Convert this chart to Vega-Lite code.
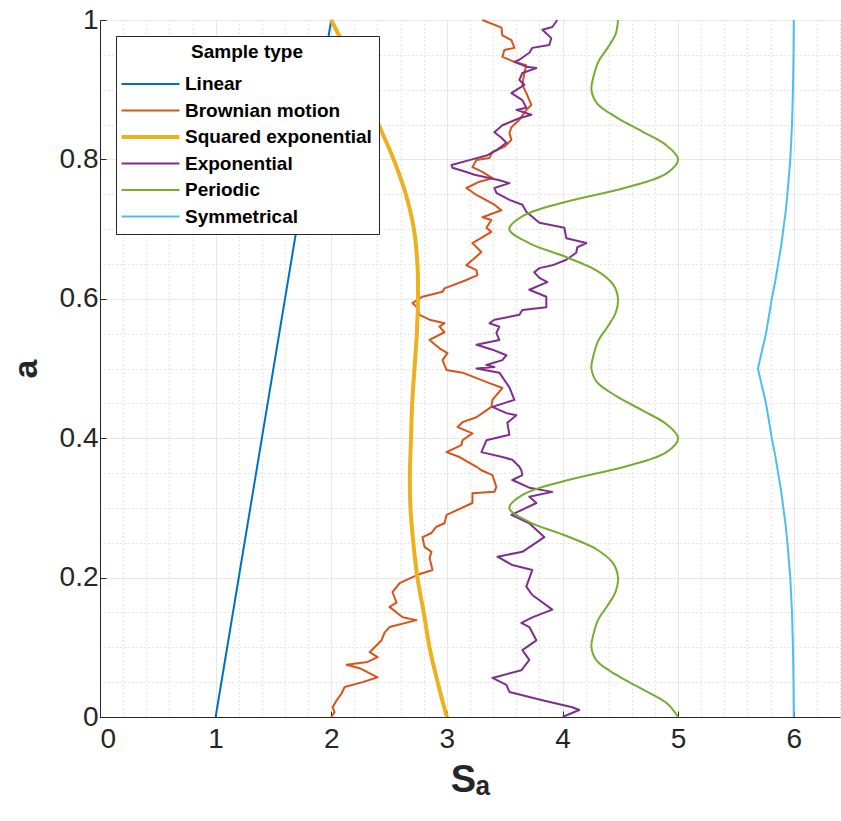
{
  "$schema": "https://vega.github.io/schema/vega-lite/v6.json",
  "autosize": "none",
  "width": 740,
  "height": 697,
  "padding": {"left": 100, "top": 20, "right": 1, "bottom": 104},
  "background": "white",
  "config": {
    "font": "Liberation Sans",
    "view": {"stroke": null},
    "axis": {
      "domainColor": "#262626",
      "domainWidth": 1,
      "labelColor": "#262626",
      "labelFont": "Liberation Sans",
      "labelFontSize": 28,
      "titleColor": "#262626",
      "titleFont": "Liberation Sans",
      "titleFontWeight": "bold",
      "grid": true,
      "gridWidth": 1
    }
  },
  "data": {"values": [
    {"type": "Linear", "a": 0, "S": 1},
    {"type": "Linear", "a": 1, "S": 2},
    {"type": "Brownian motion", "a": 1.000, "S": 3.307},
    {"type": "Brownian motion", "a": 0.989, "S": 3.472},
    {"type": "Brownian motion", "a": 0.978, "S": 3.480},
    {"type": "Brownian motion", "a": 0.971, "S": 3.558},
    {"type": "Brownian motion", "a": 0.960, "S": 3.584},
    {"type": "Brownian motion", "a": 0.957, "S": 3.497},
    {"type": "Brownian motion", "a": 0.947, "S": 3.480},
    {"type": "Brownian motion", "a": 0.940, "S": 3.584},
    {"type": "Brownian motion", "a": 0.935, "S": 3.687},
    {"type": "Brownian motion", "a": 0.924, "S": 3.670},
    {"type": "Brownian motion", "a": 0.907, "S": 3.653},
    {"type": "Brownian motion", "a": 0.892, "S": 3.696},
    {"type": "Brownian motion", "a": 0.878, "S": 3.731},
    {"type": "Brownian motion", "a": 0.871, "S": 3.687},
    {"type": "Brownian motion", "a": 0.857, "S": 3.627},
    {"type": "Brownian motion", "a": 0.846, "S": 3.558},
    {"type": "Brownian motion", "a": 0.838, "S": 3.541},
    {"type": "Brownian motion", "a": 0.828, "S": 3.558},
    {"type": "Brownian motion", "a": 0.818, "S": 3.497},
    {"type": "Brownian motion", "a": 0.811, "S": 3.394},
    {"type": "Brownian motion", "a": 0.802, "S": 3.368},
    {"type": "Brownian motion", "a": 0.799, "S": 3.256},
    {"type": "Brownian motion", "a": 0.789, "S": 3.221},
    {"type": "Brownian motion", "a": 0.782, "S": 3.307},
    {"type": "Brownian motion", "a": 0.773, "S": 3.394},
    {"type": "Brownian motion", "a": 0.768, "S": 3.282},
    {"type": "Brownian motion", "a": 0.759, "S": 3.169},
    {"type": "Brownian motion", "a": 0.749, "S": 3.256},
    {"type": "Brownian motion", "a": 0.735, "S": 3.411},
    {"type": "Brownian motion", "a": 0.727, "S": 3.472},
    {"type": "Brownian motion", "a": 0.717, "S": 3.307},
    {"type": "Brownian motion", "a": 0.713, "S": 3.385},
    {"type": "Brownian motion", "a": 0.702, "S": 3.342},
    {"type": "Brownian motion", "a": 0.696, "S": 3.385},
    {"type": "Brownian motion", "a": 0.680, "S": 3.221},
    {"type": "Brownian motion", "a": 0.667, "S": 3.299},
    {"type": "Brownian motion", "a": 0.648, "S": 3.169},
    {"type": "Brownian motion", "a": 0.641, "S": 3.256},
    {"type": "Brownian motion", "a": 0.634, "S": 3.264},
    {"type": "Brownian motion", "a": 0.627, "S": 3.169},
    {"type": "Brownian motion", "a": 0.615, "S": 2.979},
    {"type": "Brownian motion", "a": 0.610, "S": 2.962},
    {"type": "Brownian motion", "a": 0.603, "S": 2.789},
    {"type": "Brownian motion", "a": 0.594, "S": 2.703},
    {"type": "Brownian motion", "a": 0.587, "S": 2.746},
    {"type": "Brownian motion", "a": 0.577, "S": 2.763},
    {"type": "Brownian motion", "a": 0.570, "S": 2.850},
    {"type": "Brownian motion", "a": 0.565, "S": 2.979},
    {"type": "Brownian motion", "a": 0.560, "S": 2.936},
    {"type": "Brownian motion", "a": 0.552, "S": 2.979},
    {"type": "Brownian motion", "a": 0.541, "S": 2.850},
    {"type": "Brownian motion", "a": 0.529, "S": 2.936},
    {"type": "Brownian motion", "a": 0.522, "S": 3.005},
    {"type": "Brownian motion", "a": 0.512, "S": 2.962},
    {"type": "Brownian motion", "a": 0.498, "S": 2.997},
    {"type": "Brownian motion", "a": 0.494, "S": 3.135},
    {"type": "Brownian motion", "a": 0.479, "S": 3.368},
    {"type": "Brownian motion", "a": 0.472, "S": 3.480},
    {"type": "Brownian motion", "a": 0.455, "S": 3.394},
    {"type": "Brownian motion", "a": 0.445, "S": 3.385},
    {"type": "Brownian motion", "a": 0.430, "S": 3.256},
    {"type": "Brownian motion", "a": 0.423, "S": 3.135},
    {"type": "Brownian motion", "a": 0.416, "S": 3.092},
    {"type": "Brownian motion", "a": 0.407, "S": 3.221},
    {"type": "Brownian motion", "a": 0.397, "S": 3.135},
    {"type": "Brownian motion", "a": 0.390, "S": 3.126},
    {"type": "Brownian motion", "a": 0.380, "S": 2.997},
    {"type": "Brownian motion", "a": 0.373, "S": 3.109},
    {"type": "Brownian motion", "a": 0.359, "S": 3.256},
    {"type": "Brownian motion", "a": 0.354, "S": 3.299},
    {"type": "Brownian motion", "a": 0.347, "S": 3.394},
    {"type": "Brownian motion", "a": 0.330, "S": 3.428},
    {"type": "Brownian motion", "a": 0.323, "S": 3.411},
    {"type": "Brownian motion", "a": 0.321, "S": 3.221},
    {"type": "Brownian motion", "a": 0.307, "S": 3.221},
    {"type": "Brownian motion", "a": 0.290, "S": 2.997},
    {"type": "Brownian motion", "a": 0.278, "S": 2.979},
    {"type": "Brownian motion", "a": 0.273, "S": 2.910},
    {"type": "Brownian motion", "a": 0.264, "S": 2.867},
    {"type": "Brownian motion", "a": 0.258, "S": 2.789},
    {"type": "Brownian motion", "a": 0.244, "S": 2.807},
    {"type": "Brownian motion", "a": 0.237, "S": 2.867},
    {"type": "Brownian motion", "a": 0.228, "S": 2.850},
    {"type": "Brownian motion", "a": 0.211, "S": 2.876},
    {"type": "Brownian motion", "a": 0.204, "S": 2.746},
    {"type": "Brownian motion", "a": 0.192, "S": 2.591},
    {"type": "Brownian motion", "a": 0.179, "S": 2.530},
    {"type": "Brownian motion", "a": 0.164, "S": 2.565},
    {"type": "Brownian motion", "a": 0.158, "S": 2.504},
    {"type": "Brownian motion", "a": 0.143, "S": 2.617},
    {"type": "Brownian motion", "a": 0.139, "S": 2.737},
    {"type": "Brownian motion", "a": 0.129, "S": 2.504},
    {"type": "Brownian motion", "a": 0.121, "S": 2.461},
    {"type": "Brownian motion", "a": 0.110, "S": 2.435},
    {"type": "Brownian motion", "a": 0.093, "S": 2.332},
    {"type": "Brownian motion", "a": 0.086, "S": 2.401},
    {"type": "Brownian motion", "a": 0.079, "S": 2.314},
    {"type": "Brownian motion", "a": 0.075, "S": 2.133},
    {"type": "Brownian motion", "a": 0.070, "S": 2.245},
    {"type": "Brownian motion", "a": 0.057, "S": 2.401},
    {"type": "Brownian motion", "a": 0.050, "S": 2.271},
    {"type": "Brownian motion", "a": 0.043, "S": 2.116},
    {"type": "Brownian motion", "a": 0.034, "S": 2.090},
    {"type": "Brownian motion", "a": 0.024, "S": 2.047},
    {"type": "Brownian motion", "a": 0.014, "S": 2.012},
    {"type": "Brownian motion", "a": 0.007, "S": 2.029},
    {"type": "Brownian motion", "a": 0.000, "S": 2.000},
    {"type": "Squared exponential", "a": 1.00, "S": 2.00},
    {"type": "Squared exponential", "a": 0.95, "S": 2.15},
    {"type": "Squared exponential", "a": 0.90, "S": 2.29},
    {"type": "Squared exponential", "a": 0.85, "S": 2.41},
    {"type": "Squared exponential", "a": 0.80, "S": 2.54},
    {"type": "Squared exponential", "a": 0.75, "S": 2.645},
    {"type": "Squared exponential", "a": 0.70, "S": 2.715},
    {"type": "Squared exponential", "a": 0.65, "S": 2.745},
    {"type": "Squared exponential", "a": 0.60, "S": 2.75},
    {"type": "Squared exponential", "a": 0.55, "S": 2.74},
    {"type": "Squared exponential", "a": 0.50, "S": 2.72},
    {"type": "Squared exponential", "a": 0.45, "S": 2.70},
    {"type": "Squared exponential", "a": 0.40, "S": 2.69},
    {"type": "Squared exponential", "a": 0.35, "S": 2.68},
    {"type": "Squared exponential", "a": 0.30, "S": 2.685},
    {"type": "Squared exponential", "a": 0.25, "S": 2.71},
    {"type": "Squared exponential", "a": 0.20, "S": 2.745},
    {"type": "Squared exponential", "a": 0.15, "S": 2.80},
    {"type": "Squared exponential", "a": 0.10, "S": 2.85},
    {"type": "Squared exponential", "a": 0.05, "S": 2.92},
    {"type": "Squared exponential", "a": 0.00, "S": 3.00},
    {"type": "Exponential", "a": 1.000, "S": 3.955},
    {"type": "Exponential", "a": 0.990, "S": 3.912},
    {"type": "Exponential", "a": 0.986, "S": 3.826},
    {"type": "Exponential", "a": 0.974, "S": 3.903},
    {"type": "Exponential", "a": 0.964, "S": 3.886},
    {"type": "Exponential", "a": 0.960, "S": 3.739},
    {"type": "Exponential", "a": 0.953, "S": 3.713},
    {"type": "Exponential", "a": 0.943, "S": 3.627},
    {"type": "Exponential", "a": 0.940, "S": 3.584},
    {"type": "Exponential", "a": 0.933, "S": 3.687},
    {"type": "Exponential", "a": 0.931, "S": 3.774},
    {"type": "Exponential", "a": 0.924, "S": 3.653},
    {"type": "Exponential", "a": 0.914, "S": 3.627},
    {"type": "Exponential", "a": 0.907, "S": 3.670},
    {"type": "Exponential", "a": 0.895, "S": 3.558},
    {"type": "Exponential", "a": 0.885, "S": 3.653},
    {"type": "Exponential", "a": 0.874, "S": 3.687},
    {"type": "Exponential", "a": 0.871, "S": 3.601},
    {"type": "Exponential", "a": 0.864, "S": 3.731},
    {"type": "Exponential", "a": 0.859, "S": 3.627},
    {"type": "Exponential", "a": 0.849, "S": 3.480},
    {"type": "Exponential", "a": 0.839, "S": 3.411},
    {"type": "Exponential", "a": 0.831, "S": 3.472},
    {"type": "Exponential", "a": 0.824, "S": 3.515},
    {"type": "Exponential", "a": 0.813, "S": 3.428},
    {"type": "Exponential", "a": 0.806, "S": 3.351},
    {"type": "Exponential", "a": 0.799, "S": 3.195},
    {"type": "Exponential", "a": 0.792, "S": 3.040},
    {"type": "Exponential", "a": 0.788, "S": 3.048},
    {"type": "Exponential", "a": 0.782, "S": 3.169},
    {"type": "Exponential", "a": 0.778, "S": 3.238},
    {"type": "Exponential", "a": 0.770, "S": 3.454},
    {"type": "Exponential", "a": 0.766, "S": 3.541},
    {"type": "Exponential", "a": 0.759, "S": 3.411},
    {"type": "Exponential", "a": 0.752, "S": 3.428},
    {"type": "Exponential", "a": 0.742, "S": 3.541},
    {"type": "Exponential", "a": 0.735, "S": 3.653},
    {"type": "Exponential", "a": 0.725, "S": 3.687},
    {"type": "Exponential", "a": 0.709, "S": 3.800},
    {"type": "Exponential", "a": 0.702, "S": 4.016},
    {"type": "Exponential", "a": 0.687, "S": 4.033},
    {"type": "Exponential", "a": 0.680, "S": 4.206},
    {"type": "Exponential", "a": 0.674, "S": 4.128},
    {"type": "Exponential", "a": 0.666, "S": 4.119},
    {"type": "Exponential", "a": 0.656, "S": 4.033},
    {"type": "Exponential", "a": 0.648, "S": 3.912},
    {"type": "Exponential", "a": 0.644, "S": 3.800},
    {"type": "Exponential", "a": 0.638, "S": 3.756},
    {"type": "Exponential", "a": 0.630, "S": 3.800},
    {"type": "Exponential", "a": 0.624, "S": 3.869},
    {"type": "Exponential", "a": 0.613, "S": 3.713},
    {"type": "Exponential", "a": 0.603, "S": 3.860},
    {"type": "Exponential", "a": 0.588, "S": 3.860},
    {"type": "Exponential", "a": 0.584, "S": 3.653},
    {"type": "Exponential", "a": 0.577, "S": 3.627},
    {"type": "Exponential", "a": 0.570, "S": 3.411},
    {"type": "Exponential", "a": 0.565, "S": 3.368},
    {"type": "Exponential", "a": 0.560, "S": 3.454},
    {"type": "Exponential", "a": 0.551, "S": 3.428},
    {"type": "Exponential", "a": 0.541, "S": 3.454},
    {"type": "Exponential", "a": 0.534, "S": 3.256},
    {"type": "Exponential", "a": 0.527, "S": 3.394},
    {"type": "Exponential", "a": 0.519, "S": 3.515},
    {"type": "Exponential", "a": 0.512, "S": 3.480},
    {"type": "Exponential", "a": 0.505, "S": 3.342},
    {"type": "Exponential", "a": 0.502, "S": 3.411},
    {"type": "Exponential", "a": 0.500, "S": 3.256},
    {"type": "Exponential", "a": 0.494, "S": 3.454},
    {"type": "Exponential", "a": 0.473, "S": 3.541},
    {"type": "Exponential", "a": 0.455, "S": 3.584},
    {"type": "Exponential", "a": 0.445, "S": 3.394},
    {"type": "Exponential", "a": 0.436, "S": 3.515},
    {"type": "Exponential", "a": 0.433, "S": 3.601},
    {"type": "Exponential", "a": 0.422, "S": 3.523},
    {"type": "Exponential", "a": 0.405, "S": 3.541},
    {"type": "Exponential", "a": 0.397, "S": 3.342},
    {"type": "Exponential", "a": 0.380, "S": 3.299},
    {"type": "Exponential", "a": 0.373, "S": 3.480},
    {"type": "Exponential", "a": 0.369, "S": 3.566},
    {"type": "Exponential", "a": 0.359, "S": 3.627},
    {"type": "Exponential", "a": 0.354, "S": 3.644},
    {"type": "Exponential", "a": 0.347, "S": 3.653},
    {"type": "Exponential", "a": 0.340, "S": 3.566},
    {"type": "Exponential", "a": 0.329, "S": 3.713},
    {"type": "Exponential", "a": 0.323, "S": 3.912},
    {"type": "Exponential", "a": 0.316, "S": 3.713},
    {"type": "Exponential", "a": 0.307, "S": 3.774},
    {"type": "Exponential", "a": 0.290, "S": 3.558},
    {"type": "Exponential", "a": 0.278, "S": 3.713},
    {"type": "Exponential", "a": 0.258, "S": 3.843},
    {"type": "Exponential", "a": 0.237, "S": 3.653},
    {"type": "Exponential", "a": 0.230, "S": 3.437},
    {"type": "Exponential", "a": 0.218, "S": 3.566},
    {"type": "Exponential", "a": 0.211, "S": 3.739},
    {"type": "Exponential", "a": 0.187, "S": 3.687},
    {"type": "Exponential", "a": 0.175, "S": 3.739},
    {"type": "Exponential", "a": 0.154, "S": 3.912},
    {"type": "Exponential", "a": 0.143, "S": 3.739},
    {"type": "Exponential", "a": 0.135, "S": 3.644},
    {"type": "Exponential", "a": 0.129, "S": 3.713},
    {"type": "Exponential", "a": 0.110, "S": 3.774},
    {"type": "Exponential", "a": 0.096, "S": 3.653},
    {"type": "Exponential", "a": 0.082, "S": 3.713},
    {"type": "Exponential", "a": 0.067, "S": 3.644},
    {"type": "Exponential", "a": 0.056, "S": 3.394},
    {"type": "Exponential", "a": 0.046, "S": 3.515},
    {"type": "Exponential", "a": 0.036, "S": 3.541},
    {"type": "Exponential", "a": 0.024, "S": 3.826},
    {"type": "Exponential", "a": 0.014, "S": 4.085},
    {"type": "Exponential", "a": 0.010, "S": 4.145},
    {"type": "Exponential", "a": 0.000, "S": 4.000},
    {"type": "Periodic", "a": 0.00, "S": 5.00},
    {"type": "Periodic", "a": 0.02, "S": 4.90},
    {"type": "Periodic", "a": 0.04, "S": 4.69},
    {"type": "Periodic", "a": 0.06, "S": 4.47},
    {"type": "Periodic", "a": 0.08, "S": 4.30},
    {"type": "Periodic", "a": 0.10, "S": 4.25},
    {"type": "Periodic", "a": 0.12, "S": 4.27},
    {"type": "Periodic", "a": 0.14, "S": 4.31},
    {"type": "Periodic", "a": 0.16, "S": 4.39},
    {"type": "Periodic", "a": 0.18, "S": 4.46},
    {"type": "Periodic", "a": 0.20, "S": 4.48},
    {"type": "Periodic", "a": 0.22, "S": 4.44},
    {"type": "Periodic", "a": 0.24, "S": 4.30},
    {"type": "Periodic", "a": 0.26, "S": 4.03},
    {"type": "Periodic", "a": 0.28, "S": 3.71},
    {"type": "Periodic", "a": 0.30, "S": 3.54},
    {"type": "Periodic", "a": 0.32, "S": 3.67},
    {"type": "Periodic", "a": 0.34, "S": 4.05},
    {"type": "Periodic", "a": 0.36, "S": 4.56},
    {"type": "Periodic", "a": 0.38, "S": 4.90},
    {"type": "Periodic", "a": 0.40, "S": 5.00},
    {"type": "Periodic", "a": 0.42, "S": 4.90},
    {"type": "Periodic", "a": 0.44, "S": 4.69},
    {"type": "Periodic", "a": 0.46, "S": 4.47},
    {"type": "Periodic", "a": 0.48, "S": 4.30},
    {"type": "Periodic", "a": 0.50, "S": 4.25},
    {"type": "Periodic", "a": 0.52, "S": 4.27},
    {"type": "Periodic", "a": 0.54, "S": 4.31},
    {"type": "Periodic", "a": 0.56, "S": 4.39},
    {"type": "Periodic", "a": 0.58, "S": 4.46},
    {"type": "Periodic", "a": 0.60, "S": 4.48},
    {"type": "Periodic", "a": 0.62, "S": 4.44},
    {"type": "Periodic", "a": 0.64, "S": 4.30},
    {"type": "Periodic", "a": 0.66, "S": 4.03},
    {"type": "Periodic", "a": 0.68, "S": 3.71},
    {"type": "Periodic", "a": 0.70, "S": 3.54},
    {"type": "Periodic", "a": 0.72, "S": 3.67},
    {"type": "Periodic", "a": 0.74, "S": 4.05},
    {"type": "Periodic", "a": 0.76, "S": 4.56},
    {"type": "Periodic", "a": 0.78, "S": 4.90},
    {"type": "Periodic", "a": 0.80, "S": 5.00},
    {"type": "Periodic", "a": 0.82, "S": 4.90},
    {"type": "Periodic", "a": 0.84, "S": 4.69},
    {"type": "Periodic", "a": 0.86, "S": 4.47},
    {"type": "Periodic", "a": 0.88, "S": 4.30},
    {"type": "Periodic", "a": 0.90, "S": 4.25},
    {"type": "Periodic", "a": 0.92, "S": 4.27},
    {"type": "Periodic", "a": 0.94, "S": 4.31},
    {"type": "Periodic", "a": 0.96, "S": 4.39},
    {"type": "Periodic", "a": 0.98, "S": 4.46},
    {"type": "Periodic", "a": 1.00, "S": 4.48},
    {"type": "Symmetrical", "a": 0.000, "S": 6.000},
    {"type": "Symmetrical", "a": 0.050, "S": 5.998},
    {"type": "Symmetrical", "a": 0.100, "S": 5.993},
    {"type": "Symmetrical", "a": 0.150, "S": 5.985},
    {"type": "Symmetrical", "a": 0.200, "S": 5.970},
    {"type": "Symmetrical", "a": 0.250, "S": 5.945},
    {"type": "Symmetrical", "a": 0.275, "S": 5.930},
    {"type": "Symmetrical", "a": 0.300, "S": 5.910},
    {"type": "Symmetrical", "a": 0.325, "S": 5.890},
    {"type": "Symmetrical", "a": 0.350, "S": 5.865},
    {"type": "Symmetrical", "a": 0.375, "S": 5.840},
    {"type": "Symmetrical", "a": 0.400, "S": 5.810},
    {"type": "Symmetrical", "a": 0.425, "S": 5.785},
    {"type": "Symmetrical", "a": 0.450, "S": 5.760},
    {"type": "Symmetrical", "a": 0.475, "S": 5.725},
    {"type": "Symmetrical", "a": 0.500, "S": 5.690},
    {"type": "Symmetrical", "a": 0.525, "S": 5.725},
    {"type": "Symmetrical", "a": 0.550, "S": 5.760},
    {"type": "Symmetrical", "a": 0.575, "S": 5.785},
    {"type": "Symmetrical", "a": 0.600, "S": 5.810},
    {"type": "Symmetrical", "a": 0.625, "S": 5.840},
    {"type": "Symmetrical", "a": 0.650, "S": 5.865},
    {"type": "Symmetrical", "a": 0.675, "S": 5.890},
    {"type": "Symmetrical", "a": 0.700, "S": 5.910},
    {"type": "Symmetrical", "a": 0.725, "S": 5.930},
    {"type": "Symmetrical", "a": 0.750, "S": 5.945},
    {"type": "Symmetrical", "a": 0.800, "S": 5.970},
    {"type": "Symmetrical", "a": 0.850, "S": 5.985},
    {"type": "Symmetrical", "a": 0.900, "S": 5.993},
    {"type": "Symmetrical", "a": 0.950, "S": 5.998},
    {"type": "Symmetrical", "a": 1.000, "S": 6.000}
  ]},
  "encoding": {
    "x": {
      "field": "S", "type": "quantitative",
      "scale": {"domain": [0, 6.4], "nice": false, "zero": false},
      "axis": {
        "title": "Sₐ",
        "titleFontSize": 38,
        "titlePadding": 8,
        "values": [0,0.2,0.4,0.6,0.8,1,1.2,1.4,1.6,1.8,2,2.2,2.4,2.6,2.8,3,3.2,3.4,3.6,3.8,4,4.2,4.4,4.6,4.8,5,5.2,5.4,5.6,5.8,6,6.2,6.4],
        "labelExpr": "datum.value % 1 === 0 ? format(datum.value, 'd') : ''",
        "labelPadding": 14,
        "tickSize": -6,
        "tickColor": {"condition": {"test": "datum.value % 1 === 0", "value": "#262626"}, "value": "transparent"},
        "gridColor": {"condition": {"test": "datum.value % 1 === 0", "value": "#dedede"}, "value": "#cdcdcd"},
        "gridDash": {"condition": {"test": "datum.value % 1 === 0", "value": [1, 0]}, "value": [1, 3]}
      }
    },
    "y": {
      "field": "a", "type": "quantitative",
      "scale": {"domain": [0, 1], "nice": false, "zero": false},
      "axis": {
        "title": "a",
        "titleFontSize": 34,
        "titlePadding": 16,
        "values": [0,0.05,0.1,0.15,0.2,0.25,0.3,0.35,0.4,0.45,0.5,0.55,0.6,0.65,0.7,0.75,0.8,0.85,0.9,0.95,1],
        "labelExpr": "indexof([0,0.2,0.4,0.6,0.8,1], datum.value) >= 0 ? format(datum.value, '~g') : ''",
        "labelPadding": 8,
        "tickSize": -6,
        "tickColor": {"condition": {"test": "indexof([0,0.2,0.4,0.6,0.8,1], datum.value) >= 0", "value": "#262626"}, "value": "transparent"},
        "gridColor": {"condition": {"test": "indexof([0,0.2,0.4,0.6,0.8,1], datum.value) >= 0", "value": "#dedede"}, "value": "#cdcdcd"},
        "gridDash": {"condition": {"test": "indexof([0,0.2,0.4,0.6,0.8,1], datum.value) >= 0", "value": [1, 0]}, "value": [1, 3]}
      }
    },
    "order": {"field": "a", "type": "quantitative"},
    "color": {
      "field": "type", "type": "nominal",
      "scale": {
        "domain": ["Linear", "Brownian motion", "Squared exponential", "Exponential", "Periodic", "Symmetrical"],
        "range": ["#0072BD", "#D95319", "#EDB120", "#7E2F8E", "#77AC30", "#4DBEEE"]
      },
      "legend": {
        "title": "Sample type",
        "orient": "none",
        "legendX": 16,
        "legendY": 16,
        "direction": "vertical",
        "fillColor": "white",
        "strokeColor": "#262626",
        "padding": 7,
        "titleFont": "Liberation Sans",
        "titleFontSize": 19,
        "titleFontWeight": "bold",
        "titleColor": "black",
        "titleAnchor": "middle",
        "titlePadding": 12.5,
        "labelFont": "Liberation Sans",
        "labelFontSize": 19,
        "labelFontWeight": "bold",
        "labelColor": "black",
        "labelLimit": 400,
        "labelOffset": 25,
        "rowPadding": 6.5,
        "symbolType": "M-10,0H10",
        "symbolSize": 33.64,
        "symbolOffset": 18,
        "symbolStrokeWidth": 2,
        "encode": {"symbols": {"update": {"strokeWidth": {"signal": "datum.value === 'Squared exponential' ? 4 : 2"}}}}
      }
    }
  },
  "layer": [
    {
      "transform": [{"filter": {"field": "type", "oneOf": ["Linear", "Brownian motion", "Exponential", "Symmetrical"]}}],
      "mark": {"type": "line", "strokeJoin": "round", "strokeWidth": 2}
    },
    {
      "transform": [{"filter": {"field": "type", "oneOf": ["Squared exponential", "Periodic"]}}],
      "mark": {"type": "line", "interpolate": "catmull-rom"},
      "encoding": {
        "strokeWidth": {"condition": {"test": "datum.type === 'Squared exponential'", "value": 4}, "value": 2}
      }
    }
  ]
}
